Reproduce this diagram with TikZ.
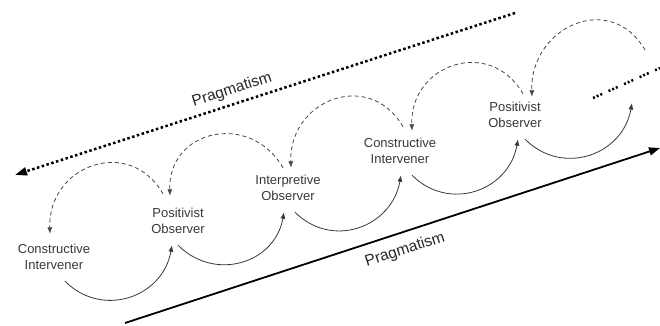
\documentclass[tikz,border=0pt]{standalone}
\usepackage{fontspec}
\setmainfont{Liberation Sans}
\usetikzlibrary{arrows.meta}
\begin{document}
\begin{tikzpicture}[x=1pt,y=1pt,
  role/.style={align=center, font=\fontsize{13}{16}\selectfont, text=black!78,
    inner sep=0pt, minimum height=48pt, minimum width=60pt},
  forward/.style={draw=black!78, line width=0.8pt, -{Latex[length=6.5pt,width=5pt]}},
  backward/.style={draw=black!72, line width=0.8pt, dash pattern=on 4pt off 3pt,
    -{Latex[length=6.5pt,width=5pt]}},
  trend/.style={line width=1.8pt, -{Triangle[length=11pt,width=8pt]}},
  dotline/.style={line width=2.5pt, dash pattern=on 2.5pt off 2.5pt},
  trendlabel/.style={font=\fontsize{15.5}{18}\selectfont, text=black!85, rotate=18}
]
\useasboundingbox (0,0) rectangle (660,-325);

% the cycle of roles
\node[role] (ci1) at (54,-257) {Constructive\\Intervener};
\node[role] (po1) at (178,-221) {Positivist\\Observer};
\node[role] (io)  at (288,-188) {Interpretive\\Observer};
\node[role] (ci2) at (400,-151) {Constructive\\Intervener};
\node[role] (po2) at (515,-115) {Positivist\\Observer};

% open ends of the cycle on the right
\coordinate (nxt) at (632,-103);
\coordinate (prv) at (645,-50);

% forward moves (below)
\draw[forward] ([xshift=11pt]ci1.south) to[out=-45,in=-100,looseness=1.2] ([xshift=-6pt]po1.south);
\draw[forward] ([xshift=0pt]po1.south) to[out=-45,in=-100,looseness=1.2] ([xshift=-4pt]io.south);
\draw[forward] ([xshift=7pt]io.south) to[out=-45,in=-100,looseness=1.2] ([xshift=1pt]ci2.south);
\draw[forward] ([xshift=12pt]ci2.south) to[out=-45,in=-100,looseness=1.2] ([xshift=3pt]po2.south);
\draw[forward] ([xshift=10pt]po2.south) to[out=-45,in=-100,looseness=1.2] (nxt);

% backward moves (above)
\draw[backward] ([xshift=-15pt,yshift=3pt]po1.north) to[out=120,in=92,looseness=1.45] ([xshift=-4pt,yshift=-1pt]ci1.north);
\draw[backward] ([xshift=-5pt,yshift=-4pt]io.north) to[out=120,in=92,looseness=1.45] ([xshift=-8pt,yshift=1pt]po1.north);
\draw[backward] ([xshift=3pt]ci2.north) to[out=120,in=92,looseness=1.45] ([xshift=3pt,yshift=-4pt]io.north);
\draw[backward] ([xshift=8pt,yshift=-3pt]po2.north) to[out=120,in=92,looseness=1.45] ([xshift=12pt,yshift=-4pt]ci2.north);
\draw[backward] (prv) to[out=120,in=92,looseness=1.45] ([xshift=17pt,yshift=-6pt]po2.north);

% continuation dots
\coordinate (dotsA) at (593,-98);
\coordinate (dotsB) at (660,-68);
\draw[line width=2.5pt, dash pattern=on 2pt off 2pt on 2pt off 2pt on 2pt off 7pt] (dotsA) -- (dotsB);

% pragmatism trends
\coordinate (topA) at (515,-13);
\coordinate (topB) at (15,-175);
\draw[dotline, -{Triangle[length=12pt,width=8pt]}] (topA) -- (topB);
\node[trendlabel] (tl) at (232,-90) {Pragmatism};

\coordinate (botA) at (125,-323);
\coordinate (botB) at (660,-148);
\draw[trend] (botA) -- (botB);
\node[trendlabel] (bl) at (405,-250) {Pragmatism};
\end{tikzpicture}
\end{document}
